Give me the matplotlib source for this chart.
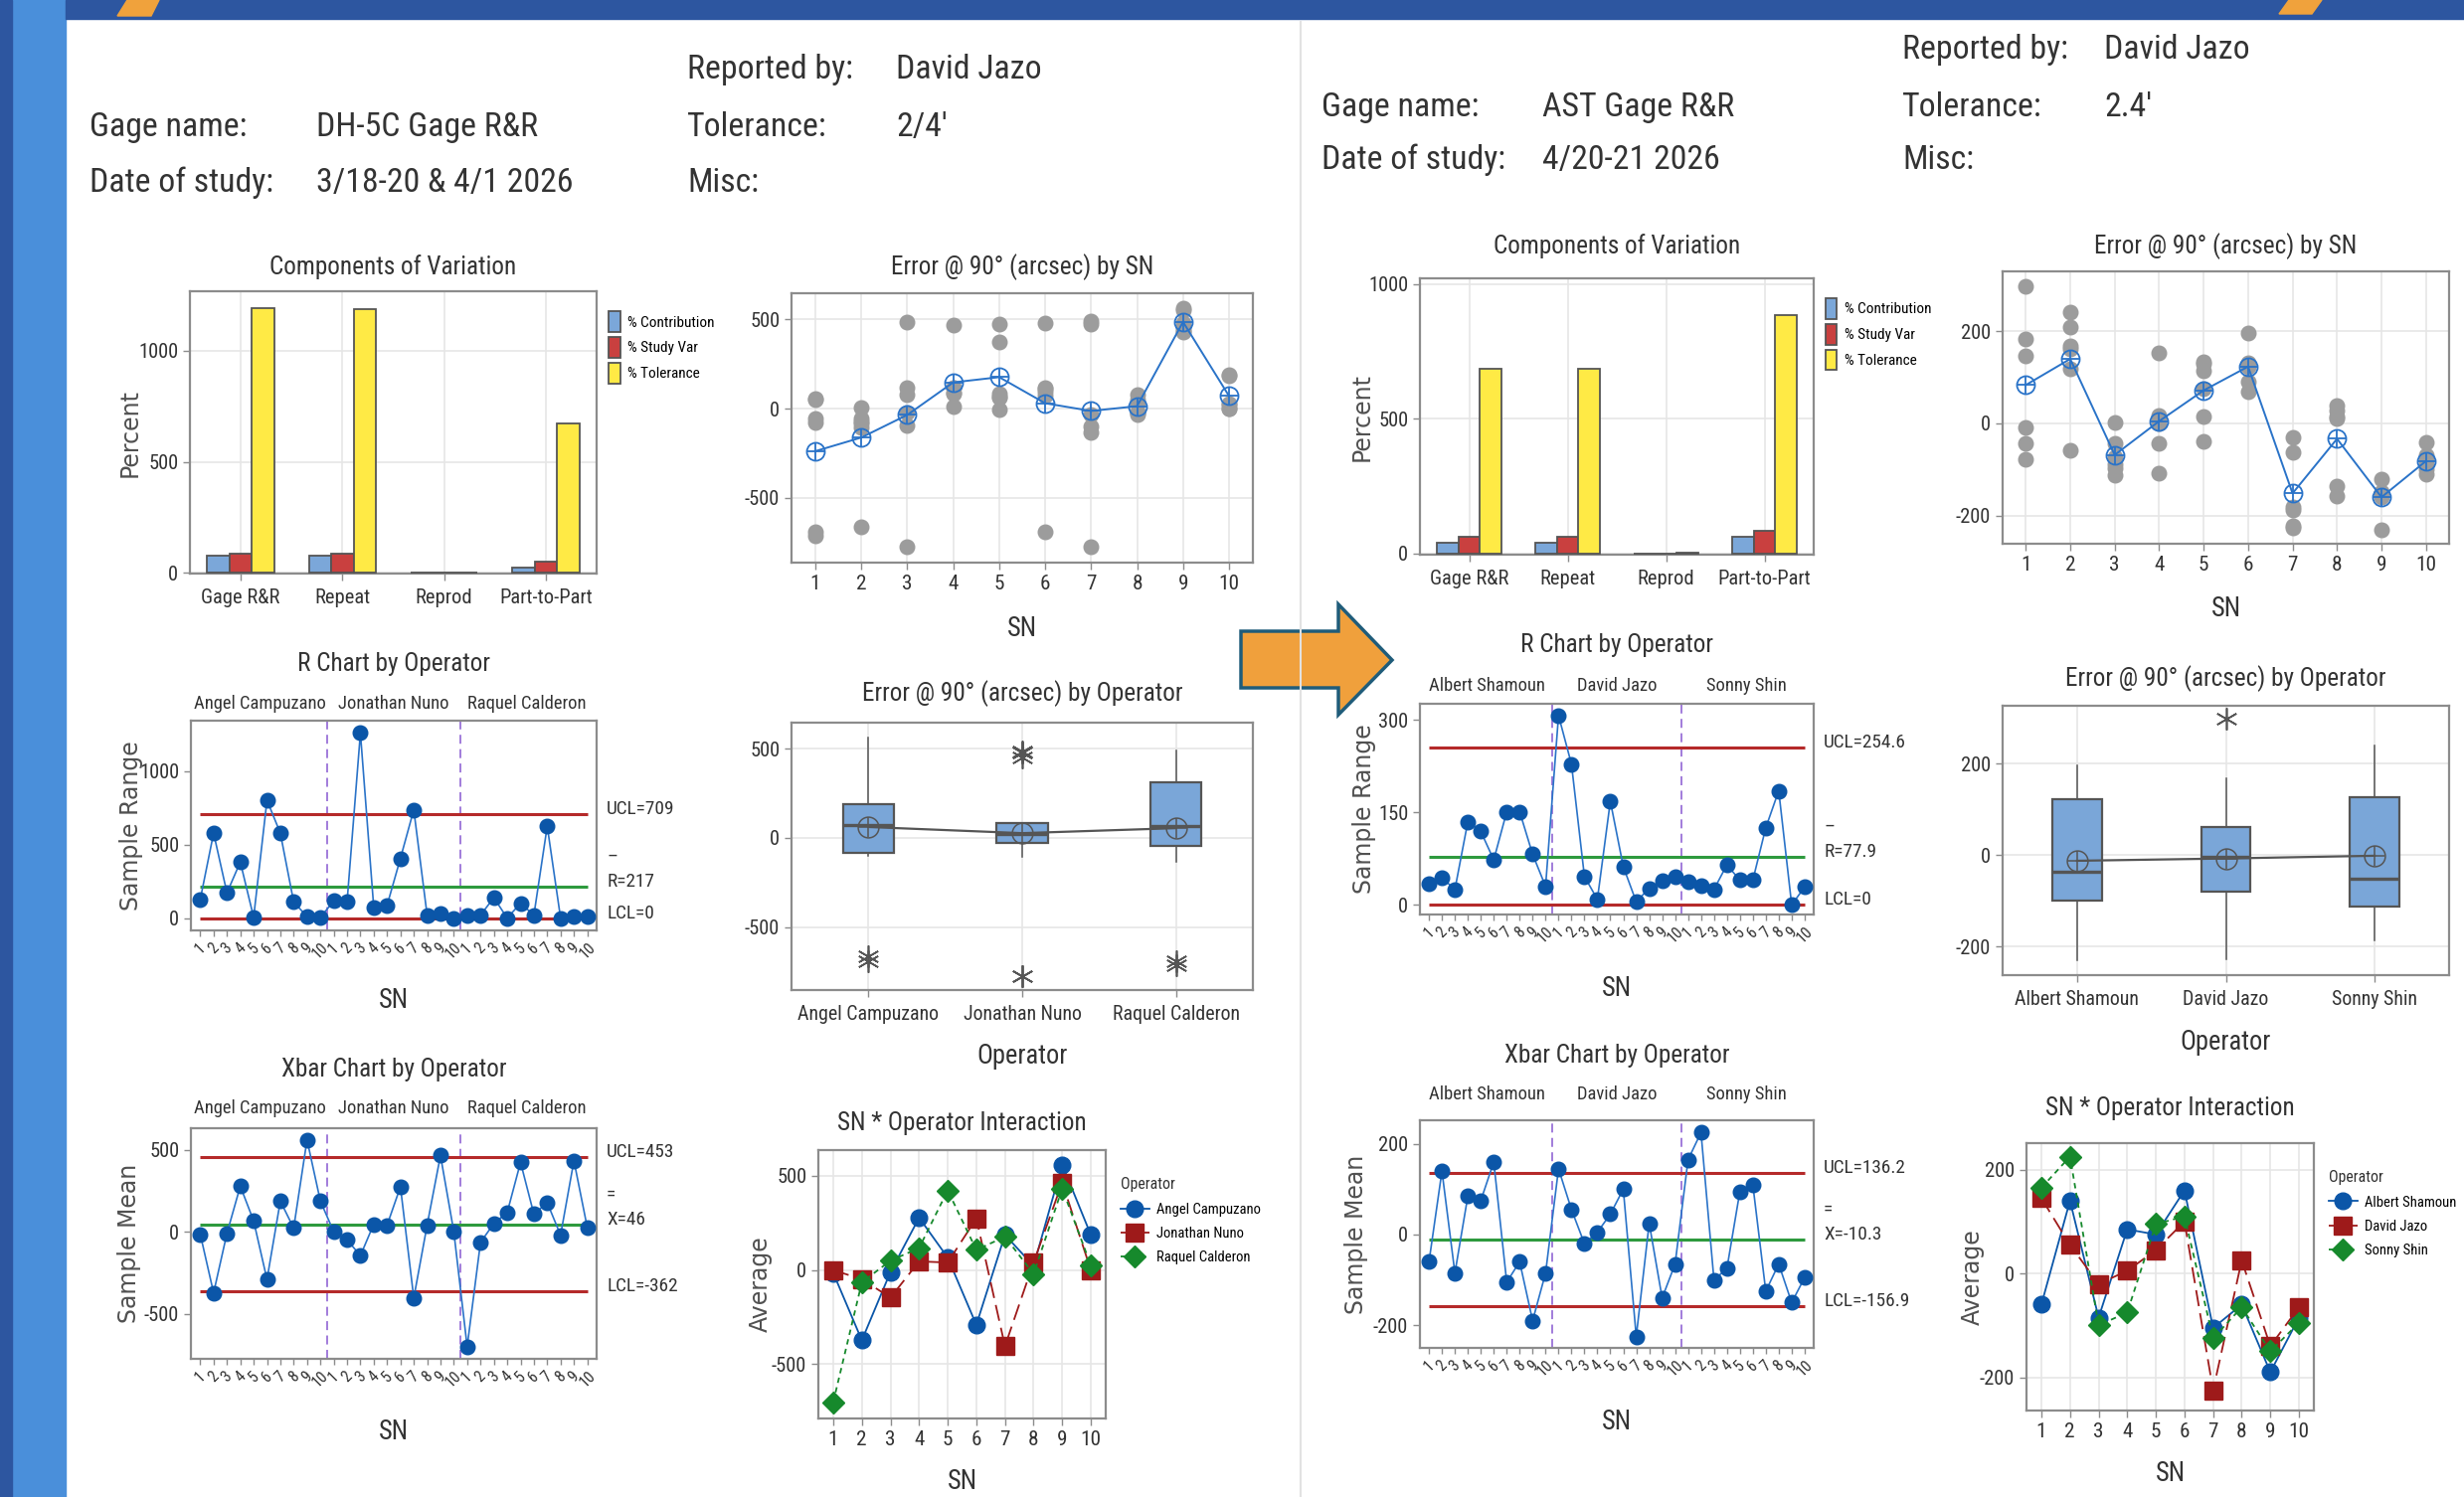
import numpy as np
import matplotlib
matplotlib.use("Agg")
import matplotlib.pyplot as plt
import matplotlib.font_manager as fm
from matplotlib.textpath import TextPath
from matplotlib.patches import Polygon, Rectangle

W, H = 2478, 1506

# ---------------- data ----------------
sn = list(range(1, 11))
components = ["Gage R&R", "Repeat", "Reprod", "Part-to-Part"]
comp_labels = ["% Contribution", "% Study Var", "% Tolerance"]

# left study: DH-5C
ops_a = ["Angel Campuzano", "Jonathan Nuno", "Raquel Calderon"]
contrib_a = [76.5, 76, 1, 23.5]
studyvar_a = [87.5, 87, 1, 48.5]
toler_a = [1190, 1187, 2, 671]
# sample means (Xbar chart) per operator, SN 1..10
xbar_a = [
    [-15, -373, -10, 278, 66, -291, 187, 22, 560, 187],
    [0, -49, -146, 46, 40, 274, -404, 40, 465, 0],
    [-701, -65, 50, 117, 423, 107, 177, -21, 433, 26],
]
# sample ranges (R chart) per operator, SN 1..10 (2 trials each)
range_a = [
    [127, 579, 172, 382, 5, 803, 579, 110, 10, 5],
    [116, 110, 1261, 72, 87, 407, 738, 20, 31, 0],
    [20, 20, 139, 0, 101, 20, 626, 0, 9, 9],
]
r_limits_a = (709, 217, 0)
x_limits_a = (453, 46, -362)
r_text_a = ("UCL=709", "R=217", "LCL=0")
x_text_a = ("UCL=453", "X=46", "LCL=-362")

# right study: AST
ops_b = ["Albert Shamoun", "David Jazo", "Sonny Shin"]
contrib_b = [42, 42, 0.5, 62]
studyvar_b = [64, 64, 1.5, 86]
toler_b = [687, 687, 3, 887]
xbar_b = [
    [-60, 140, -85, 85, 75, 160, -105, -60, -190, -85],
    [145, 55, -20, 5, 45, 100, -225, 25, -140, -65],
    [165, 225, -100, -75, 95, 110, -125, -65, -150, -95],
]
range_b = [
    [34, 44, 25, 135, 119, 73, 151, 151, 82, 30],
    [307, 228, 46, 9, 168, 62, 5, 27, 39, 46],
    [37, 31, 25, 65, 40, 40, 125, 185, 0, 29],
]
r_limits_b = (254.6, 77.9, 0)
x_limits_b = (136.2, -10.3, -156.9)
r_text_b = ("UCL=254.6", "R=77.9", "LCL=0")
x_text_b = ("UCL=136.2", "X=-10.3", "LCL=-156.9")

header_a = [("Gage name:", "DH-5C Gage R&R"), ("Date of study:", "3/18-20 & 4/1 2026")]
header_a2 = [("Reported by:", "David Jazo"), ("Tolerance:", "2/4'"), ("Misc:", "")]
header_b = [("Gage name:", "AST Gage R&R"), ("Date of study:", "4/20-21 2026")]
header_b2 = [("Reported by:", "David Jazo"), ("Tolerance:", "2.4'"), ("Misc:", "")]


# ---------------- font: the reference uses a narrow face ----------------
def pick_font():
    cond = ('condensed', 'semi-condensed', 'extra-condensed', 'ultra-condensed')
    entries = [f for f in fm.fontManager.ttflist
               if f.style == 'normal' and f.weight in (400, 'normal', 'regular', 'book')]
    names = {f.name for f in entries}
    for p in ['Liberation Sans Narrow', 'Roboto Condensed', 'Open Sans Condensed',
              'Noto Sans Condensed', 'DejaVu Sans Condensed']:
        if p in names:
            return p, 'normal'
    for base in ['Noto Sans', 'Open Sans', 'Roboto', 'Liberation Sans', 'DejaVu Sans']:
        for f in entries:
            if f.name == base and f.stretch in cond:
                return base, f.stretch
    return 'Liberation Sans', 'normal'


FONT, STRETCH = pick_font()
plt.rcParams['font.family'] = [FONT, 'DejaVu Sans']
plt.rcParams['font.stretch'] = STRETCH
plt.rcParams['axes.unicode_minus'] = False

_probe = TextPath((0, 0), "Components of Variation", size=19 * 100 / 72,
                  prop=fm.FontProperties(family=[FONT], stretch=STRETCH))
SCALE = float(np.clip(245 / _probe.get_extents().width, 0.7, 1.15))


def fs(size):
    return size * SCALE


# ---------------- styles ----------------
TXT = '#333333'
FRAME = '#8c8c8c'
GRID = '#e6e6e6'
C_CONTRIB = '#7ba7d9'
C_SV = '#c9403f'
C_TOL = '#ffea45'
DOT = '#0b56a8'
LINE = '#2a73c8'
RED = '#b52a2a'
GREEN = '#2e9a3e'
PURPLE = '#9a72d8'
GRAY_DOT = '#9c9c9c'
BOX = '#7aa6d8'
DARK = '#555555'

fig = plt.figure(figsize=(W / 100, H / 100), dpi=100)

# background decoration
bg = fig.add_axes([0, 0, 1, 1])
bg.set_xlim(0, W)
bg.set_ylim(H, 0)
bg.axis('off')
bg.add_patch(Rectangle((0, 0), 66, H, color='#4a8fda'))
bg.add_patch(Rectangle((0, 0), 12, H, color='#2d56a0'))
bg.add_patch(Rectangle((66, 0), W - 66, 19, color='#2d56a0'))
bg.add_patch(Polygon([(128, 0), (160, 0), (152, 16), (118, 16)], color='#f0a23c'))
bg.add_patch(Polygon([(2302, 0), (2335, 0), (2325, 14), (2292, 14)], color='#f0a23c'))
bg.plot([1308, 1308], [22, H], color='#e2e2e2', lw=1.5)
bg.add_patch(Polygon([(1248, 635), (1346, 635), (1346, 608), (1400, 664),
                      (1346, 719), (1346, 692), (1248, 692)],
                     facecolor='#f0a03c', edgecolor='#1f5c7a', lw=2.5))


def header(rows, x_lab, x_val, ys):
    for (lab, val), y in zip(rows, ys):
        bg.text(x_lab, y, lab, fontsize=fs(25.5), color=TXT, va='center')
        bg.text(x_val, y, val, fontsize=fs(25.5), color=TXT, va='center')


header(header_a, 90, 318, [128, 184])
header(header_a2, 691, 901, [70, 128, 184])
header(header_b, 1329, 1551, [108, 161])
header(header_b2, 1913, 2116, [50, 108, 161])


def new_ax(x0, y0, x1, y1):
    ax = fig.add_axes([x0 / W, 1 - y1 / H, (x1 - x0) / W, (y1 - y0) / H])
    for s in ax.spines.values():
        s.set_color(FRAME)
        s.set_linewidth(1.6)
    ax.tick_params(colors=TXT, labelsize=fs(15.5), length=5, width=1, color=FRAME)
    return ax


def title(ax, text, dy, size=19):
    ax.annotate(text, (0.5, 1), xycoords='axes fraction', xytext=(0, dy),
                textcoords='offset pixels', ha='center', va='center',
                fontsize=fs(size), color=TXT)


def xlab(ax, text, dy):
    ax.annotate(text, (0.5, 0), xycoords='axes fraction', xytext=(0, -dy),
                textcoords='offset pixels', ha='center', va='center',
                fontsize=fs(20), color=TXT)


def ylab(ax, text, dx):
    ax.annotate(text, (0, 0.5), xycoords='axes fraction', xytext=(-dx, 0),
                textcoords='offset pixels', ha='center', va='center',
                rotation=90, fontsize=17, color='#505050',
                family=['DejaVu Sans'], stretch='normal')


def trials(xbar, rng):
    m = np.array(xbar, dtype=float)
    r = np.array(rng, dtype=float)
    return m - r / 2, m + r / 2


def comp_chart(ax, contrib, sv, tol, ylim):
    x = np.arange(len(components))
    w = 0.22
    for off, vals, col, lab in ((-w, contrib, C_CONTRIB, comp_labels[0]),
                                (0, sv, C_SV, comp_labels[1]),
                                (w, tol, C_TOL, comp_labels[2])):
        ax.bar(x + off, vals, w, color=col, edgecolor=DARK, linewidth=1.3,
               label=lab, zorder=3)
    ax.set_xticks(x, components, fontsize=fs(15.5))
    ax.tick_params(axis='x', pad=6)
    ax.set_xlim(-0.5, 3.5)
    ax.set_ylim(*ylim)
    ax.set_yticks([0, 500, 1000])
    ax.grid(color=GRID, lw=1.2)
    ax.set_axisbelow(True)
    ax.legend(loc='upper left', bbox_to_anchor=(1.015, 0.95), frameon=False,
              fontsize=fs(11.5), handlelength=0.75, handleheight=1.7,
              handletextpad=0.5, labelspacing=0.35, borderaxespad=0)


def sn_chart(ax, xbar, rng, ylim, yticks):
    lo, hi = trials(xbar, rng)
    for i in range(len(xbar)):
        ax.plot(sn, lo[i], ls='none', marker='o', ms=10.5, color=GRAY_DOT, zorder=3)
        ax.plot(sn, hi[i], ls='none', marker='o', ms=10.5, color=GRAY_DOT, zorder=3)
    means = np.mean(np.array(xbar, dtype=float), axis=0)
    ax.plot(sn, means, color=LINE, lw=1.4, marker='o', ms=13, mfc='none',
            mec=LINE, mew=1.3, zorder=4)
    ax.plot(sn, means, ls='none', marker='+', ms=13, mec=LINE, mew=1.3, zorder=4)
    ax.set_xticks(sn)
    ax.tick_params(axis='x', labelsize=fs(16))
    ax.set_xlim(0.48, 10.52)
    ax.set_ylim(*ylim)
    ax.set_yticks(yticks)
    ax.grid(color=GRID, lw=1.2)
    ax.set_axisbelow(True)


def box_chart(ax, xbar, rng, ops, ylim, yticks):
    lo, hi = trials(xbar, rng)
    stats, means = [], []
    for i in range(len(ops)):
        vals = np.concatenate([lo[i], hi[i]])
        q1, med, q3 = np.percentile(vals, [25, 50, 75], method='weibull')
        iqr = q3 - q1
        f_lo, f_hi = q1 - 1.5 * iqr, q3 + 1.5 * iqr
        inside = vals[(vals >= f_lo) & (vals <= f_hi)]
        stats.append(dict(med=med, q1=q1, q3=q3, whislo=inside.min(),
                          whishi=inside.max(),
                          fliers=vals[(vals < f_lo) | (vals > f_hi)],
                          label=ops[i]))
        means.append(vals.mean())
    pos = [1, 2, 3]
    ax.bxp(stats, positions=pos, widths=0.33, patch_artist=True, showcaps=False,
           boxprops=dict(facecolor=BOX, edgecolor=DARK, linewidth=1.6),
           medianprops=dict(color=DARK, linewidth=2.4),
           whiskerprops=dict(color=DARK, linewidth=1.1),
           flierprops=dict(marker=(6, 2, 0), markersize=16, markeredgecolor=DARK,
                           markeredgewidth=1.2, linestyle='none'),
           zorder=3)
    ax.plot(pos, means, color=DARK, lw=1.6, zorder=4)
    ax.plot(pos, means, ls='none', marker='o', ms=15, mfc='none', mec=DARK,
            mew=1.1, zorder=5)
    ax.plot(pos, means, ls='none', marker='+', ms=15, mec=DARK, mew=1.1, zorder=5)
    ax.tick_params(axis='x', labelsize=fs(15), pad=6)
    ax.set_xlim(0.5, 3.5)
    ax.set_ylim(*ylim)
    ax.set_yticks(yticks)
    ax.grid(color=GRID, lw=1.2)
    ax.set_axisbelow(True)


def ctrl_chart(ax, series, ops, limits, texts, over, ylim, yticks, name_dy):
    y = np.concatenate([np.array(s, dtype=float) for s in series])
    n = len(sn)
    x = np.arange(1, len(y) + 1)
    ucl, cl, lcl = limits
    ax.hlines([ucl, lcl], 1, len(y), color=RED, lw=2.2, zorder=2)
    ax.hlines(cl, 1, len(y), color=GREEN, lw=2.2, zorder=2)
    for k in range(1, len(ops)):
        ax.axvline(k * n + 0.5, color=PURPLE, lw=1.3, ls=(0, (5, 3)), zorder=1)
    ax.plot(x, y, color=LINE, lw=1.2, marker='o', ms=10.5, mfc=DOT, mec=DOT, zorder=3)
    ax.set_xlim(0.3, len(y) + 0.7)
    ax.set_ylim(*ylim)
    ax.set_yticks(yticks)
    ax.set_xticks(x, [str(s) for s in sn] * len(ops), rotation=45,
                  fontsize=fs(12), ha='center', va='top')
    ax.tick_params(axis='x', length=4, pad=3)
    for k, op in enumerate(ops):
        ax.annotate(op, (k * n + (n + 1) / 2, 1), xycoords=ax.get_xaxis_transform(),
                    xytext=(0, name_dy), textcoords='offset pixels', ha='center',
                    va='center', fontsize=fs(14), color=TXT)
    tr = ax.get_yaxis_transform()
    for val, txt in zip(limits, texts):
        ax.annotate(txt, (1, val), xycoords=tr, xytext=(10, 5),
                    textcoords='offset pixels', ha='left', va='center',
                    fontsize=fs(14.5), color=TXT)
    ax.annotate(over, (1, cl), xycoords=tr, xytext=(10, 30),
                textcoords='offset pixels', ha='left', va='center',
                fontsize=fs(14.5), color=TXT)


def inter_chart(ax, xbar, ops, ylim, yticks):
    styles = [dict(color=DOT, ls='-', marker='o', ms=12),
              dict(color='#9e1a1a', ls=(0, (9, 4)), marker='s', ms=13),
              dict(color='#16892c', ls=(0, (3, 2.5)), marker='D', ms=11)]
    for i in range(len(ops)):
        ax.plot(sn, xbar[i], lw=1.3, label=ops[i], zorder=3, **styles[i])
    ax.set_xticks(sn)
    ax.tick_params(axis='x', labelsize=fs(16))
    ax.set_xlim(0.48, 10.52)
    ax.set_ylim(*ylim)
    ax.set_yticks(yticks)
    ax.grid(color=GRID, lw=1.2)
    ax.set_axisbelow(True)
    leg = ax.legend(title='Operator', loc='upper left', bbox_to_anchor=(1.03, 0.92),
                    frameon=False, fontsize=fs(11), title_fontsize=fs(12),
                    alignment='left', handlelength=2.0, handletextpad=0.5,
                    labelspacing=0.7, borderaxespad=0)
    leg.get_title().set_color(TXT)


# ---------------- left panel ----------------
ax = new_ax(191, 293, 600, 577)
comp_chart(ax, contrib_a, studyvar_a, toler_a, (-3, 1268))
title(ax, "Components of Variation", 24)
ylab(ax, "Percent", 60)

ax = new_ax(796, 295, 1260, 566)
sn_chart(ax, xbar_a, range_a, (-864, 647), [-500, 0, 500])
title(ax, "Error @ 90° (arcsec) by SN", 26)
xlab(ax, "SN", 66)

ax = new_ax(192, 725, 600, 936)
ctrl_chart(ax, range_a, ops_a, r_limits_a, r_text_a, "–", (-84, 1345),
           [0, 500, 1000], 17)
title(ax, "R Chart by Operator", 57)
xlab(ax, "SN", 70)
ylab(ax, "Sample Range", 60)

ax = new_ax(796, 727, 1260, 996)
box_chart(ax, xbar_a, range_a, ops_a, (-853, 646), [-500, 0, 500])
title(ax, "Error @ 90° (arcsec) by Operator", 29)
xlab(ax, "Operator", 67)

ax = new_ax(192, 1135, 600, 1367)
ctrl_chart(ax, xbar_a, ops_a, x_limits_a, x_text_a, "=", (-775, 631),
           [-500, 0, 500], 20)
title(ax, "Xbar Chart by Operator", 59)
xlab(ax, "SN", 74)
ylab(ax, "Sample Mean", 62)

ax = new_ax(823, 1157, 1112, 1427)
inter_chart(ax, xbar_a, ops_a, (-788, 637), [-500, 0, 500])
title(ax, "SN * Operator Interaction", 27)
xlab(ax, "SN", 63)
ylab(ax, "Average", 58)

# ---------------- right panel ----------------
ax = new_ax(1428, 280, 1824, 558)
comp_chart(ax, contrib_b, studyvar_b, toler_b, (-4, 1022))
title(ax, "Components of Variation", 32)
ylab(ax, "Percent", 58)

ax = new_ax(2014, 273, 2463, 547)
sn_chart(ax, xbar_b, range_b, (-261, 330), [-200, 0, 200])
title(ax, "Error @ 90° (arcsec) by SN", 25)
xlab(ax, "SN", 66)

ax = new_ax(1428, 708, 1824, 920)
ctrl_chart(ax, range_b, ops_b, r_limits_b, r_text_b, "–", (-15.6, 326),
           [0, 150, 300], 18)
title(ax, "R Chart by Operator", 59)
xlab(ax, "SN", 74)
ylab(ax, "Sample Range", 56)

ax = new_ax(2014, 710, 2463, 981)
box_chart(ax, xbar_b, range_b, ops_b, (-263, 327), [-200, 0, 200])
title(ax, "Error @ 90° (arcsec) by Operator", 27)
xlab(ax, "Operator", 68)

ax = new_ax(1428, 1127, 1824, 1356)
ctrl_chart(ax, xbar_b, ops_b, x_limits_b, x_text_b, "=", (-250, 252),
           [-200, 0, 200], 26)
title(ax, "Xbar Chart by Operator", 65)
xlab(ax, "SN", 74)
ylab(ax, "Sample Mean", 64)

ax = new_ax(2038, 1150, 2327, 1419)
inter_chart(ax, xbar_b, ops_b, (-264, 251), [-200, 0, 200])
title(ax, "SN * Operator Interaction", 35)
xlab(ax, "SN", 63)
ylab(ax, "Average", 54)

fig.savefig("out.png", dpi=100, facecolor='white')
